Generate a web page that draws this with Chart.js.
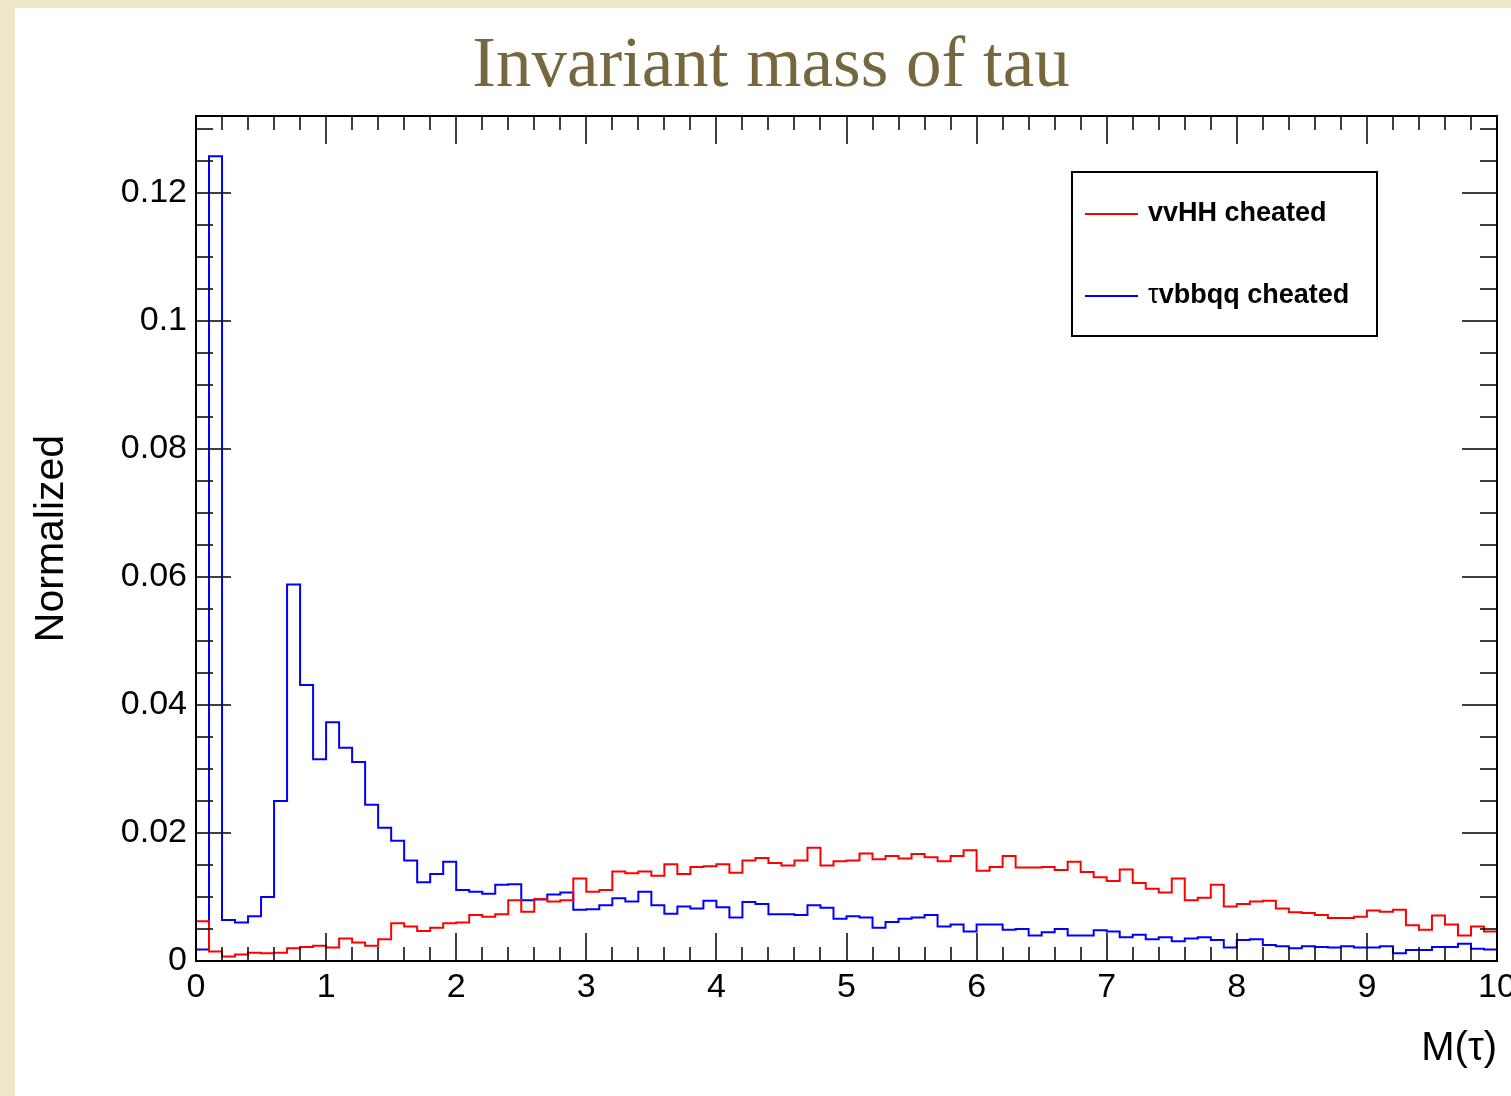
<!DOCTYPE html>
<html>
<head>
<meta charset="utf-8">
<title>Invariant mass of tau</title>
<script src="https://cdn.jsdelivr.net/npm/chart.js@4.4.1/dist/chart.umd.min.js"></script>
<style>
  html, body { margin: 0; padding: 0; }
  body { width: 1511px; height: 1096px; background: #efe6ca; overflow: hidden; position: relative; }
  #panel { position: absolute; left: 15px; top: 8px; width: 1496px; height: 1088px; background: #fff; }
  canvas { display: block; }
</style>
</head>
<body>
<div id="panel"><canvas id="massChart" width="1496" height="1088"></canvas></div>
<script>
// histogram binning: 100 bins of 0.1 between 0 and 10
const binLow = 0;
const binWidth = 0.1;

// vvHH cheated (red)
const vvhhCheated = [
  0.0062, 0.0015, 0.0007, 0.0010, 0.0013, 0.0012, 0.0013, 0.0020, 0.0022, 0.0024,
  0.0021, 0.0035, 0.0029, 0.0024, 0.0034, 0.0059, 0.0054, 0.0047, 0.0052, 0.0059,
  0.0060, 0.0072, 0.0069, 0.0073, 0.0095, 0.0077, 0.0097, 0.0093, 0.0095, 0.0129,
  0.0108, 0.0111, 0.0140, 0.0137, 0.0140, 0.0133, 0.0151, 0.0136, 0.0147, 0.0148,
  0.0151, 0.0138, 0.0157, 0.0161, 0.0153, 0.0149, 0.0157, 0.0177, 0.0149, 0.0156,
  0.0157, 0.0168, 0.0159, 0.0164, 0.0160, 0.0167, 0.0162, 0.0156, 0.0164, 0.0173,
  0.0141, 0.0147, 0.0164, 0.0146, 0.0146, 0.0147, 0.0142, 0.0155, 0.0139, 0.0131,
  0.0125, 0.0143, 0.0122, 0.0113, 0.0107, 0.0129, 0.0095, 0.0099, 0.0119, 0.0085,
  0.0089, 0.0093, 0.0094, 0.0082, 0.0076, 0.0075, 0.0072, 0.0067, 0.0067, 0.0069,
  0.0079, 0.0077, 0.0080, 0.0056, 0.0049, 0.0071, 0.0057, 0.0040, 0.0054, 0.0046
];

// τvbbqq cheated (blue)
const tauCheated = [
  0.0018, 0.1257, 0.0064, 0.0060, 0.0070, 0.0100, 0.0250, 0.0588, 0.0431, 0.0315,
  0.0373, 0.0333, 0.0311, 0.0244, 0.0208, 0.0188, 0.0157, 0.0123, 0.0136, 0.0155,
  0.0111, 0.0108, 0.0105, 0.0119, 0.0120, 0.0095, 0.0096, 0.0104, 0.0107, 0.0080,
  0.0081, 0.0087, 0.0098, 0.0093, 0.0108, 0.0087, 0.0074, 0.0085, 0.0082, 0.0094,
  0.0084, 0.0068, 0.0092, 0.0089, 0.0073, 0.0073, 0.0072, 0.0087, 0.0083, 0.0066,
  0.0070, 0.0068, 0.0052, 0.0061, 0.0066, 0.0068, 0.0072, 0.0054, 0.0057, 0.0046,
  0.0057, 0.0057, 0.0049, 0.0050, 0.0040, 0.0045, 0.0050, 0.0040, 0.0040, 0.0048,
  0.0046, 0.0037, 0.0041, 0.0034, 0.0037, 0.0031, 0.0035, 0.0037, 0.0033, 0.0021,
  0.0033, 0.0034, 0.0025, 0.0023, 0.0020, 0.0023, 0.0022, 0.0021, 0.0023, 0.0021,
  0.0021, 0.0023, 0.0012, 0.0017, 0.0017, 0.0022, 0.0022, 0.0027, 0.0019, 0.0018
];

const xTickLabels = [0, 1, 2, 3, 4, 5, 6, 7, 8, 9, 10];
const yTickLabels = [0, 0.02, 0.04, 0.06, 0.08, 0.1, 0.12];
const yMax = 0.132;

const titleText = 'Invariant mass of tau';

// bin contents -> one point per lower bin edge, plus the upper edge of the
// last bin; stepped 'before' holds each value across its bin
function histPoints(values) {
  const pts = values.map((v, i) => ({ x: binLow + i * binWidth, y: v }));
  pts.push({ x: binLow + values.length * binWidth, y: values[values.length - 1] });
  return pts;
}

// slide title, centred over the page
const slideTitle = {
  id: 'slideTitle',
  afterDraw(chart) {
    const { ctx } = chart;
    ctx.save();
    ctx.fillStyle = '#77673f';
    ctx.font = '71px "Liberation Serif", "Times New Roman", serif';
    ctx.textAlign = 'center';
    ctx.textBaseline = 'alphabetic';
    ctx.fillText(titleText, 756, 78);
    ctx.restore();
  }
};

// ROOT style frame: box + inward ticks on all four sides
const rootFrame = {
  id: 'rootFrame',
  afterDatasetsDraw(chart) {
    const { ctx, chartArea: a, scales: { x, y } } = chart;
    ctx.save();
    ctx.strokeStyle = '#000';
    ctx.lineWidth = 1.5;
    ctx.beginPath();
    for (let k = 0; k <= 50; k++) {
      const px = Math.round(x.getPixelForValue(k * 0.2));
      const len = k % 5 === 0 ? 28 : 14;
      ctx.moveTo(px, a.bottom); ctx.lineTo(px, a.bottom - len);
      ctx.moveTo(px, a.top); ctx.lineTo(px, a.top + len);
    }
    for (let k = 0; k * 0.005 <= yMax + 1e-9; k++) {
      const py = Math.round(y.getPixelForValue(k * 0.005));
      const len = k % 4 === 0 ? 35 : 17;
      ctx.moveTo(a.left, py); ctx.lineTo(a.left + len, py);
      ctx.moveTo(a.right, py); ctx.lineTo(a.right - len, py);
    }
    ctx.stroke();
    ctx.lineWidth = 2;
    ctx.strokeRect(a.left, a.top, a.width, a.height);
    ctx.restore();
  }
};

// boxed legend in the upper right of the frame
const boxLegend = {
  id: 'boxLegend',
  afterDraw(chart) {
    const { ctx, chartArea: a } = chart;
    const bx = a.left + 876, by = a.top + 56, bw = 305, bh = 164;
    ctx.save();
    ctx.fillStyle = '#fff';
    ctx.fillRect(bx, by, bw, bh);
    ctx.strokeStyle = '#000';
    ctx.lineWidth = 2;
    ctx.strokeRect(bx, by, bw, bh);
    ctx.textBaseline = 'middle';
    ctx.textAlign = 'left';
    chart.data.datasets.forEach((ds, i) => {
      const ly = by + 42 + i * 82;
      ctx.strokeStyle = ds.borderColor;
      ctx.lineWidth = 2;
      ctx.beginPath();
      ctx.moveTo(bx + 13, ly);
      ctx.lineTo(bx + 66, ly);
      ctx.stroke();
      ctx.fillStyle = '#000';
      let tx = bx + 76;
      let text = ds.label;
      // greek prefix is set in plain weight, the rest in bold
      if (/^[\u03b1-\u03c9]/.test(text)) {
        ctx.font = '27px "Liberation Sans", Arial, sans-serif';
        ctx.fillText(text[0], tx, ly);
        tx += ctx.measureText(text[0]).width;
        text = text.slice(1);
      }
      ctx.font = 'bold 27px "Liberation Sans", Arial, sans-serif';
      ctx.fillText(text, tx, ly);
    });
    ctx.restore();
  }
};

const sansFont = '"Liberation Sans", Arial, Helvetica, sans-serif';

new Chart(document.getElementById('massChart'), {
  type: 'line',
  data: {
    datasets: [
      {
        label: 'vvHH cheated',
        data: histPoints(vvhhCheated),
        borderColor: '#ff0000',
        borderWidth: 2,
        stepped: 'before',
        pointRadius: 0,
        fill: false
      },
      {
        label: 'τvbbqq cheated',
        data: histPoints(tauCheated),
        borderColor: '#0000ff',
        borderWidth: 2,
        stepped: 'before',
        pointRadius: 0,
        fill: false
      }
    ]
  },
  options: {
    responsive: false,
    animation: false,
    devicePixelRatio: 1,
    layout: { padding: { left: 0, right: 14, top: 108, bottom: 0 } },
    plugins: {
      legend: { display: false },
      tooltip: { enabled: false },
      title: { display: false }
    },
    scales: {
      x: {
        type: 'linear',
        min: 0,
        max: 10,
        grid: { display: false, drawTicks: false },
        border: { display: false },
        afterBuildTicks: s => { s.ticks = xTickLabels.map(v => ({ value: v })); },
        afterFit: s => { s.height = 135; s.paddingLeft = 0; s.paddingRight = 0; },
        ticks: {
          autoSkip: false,
          maxRotation: 0,
          padding: 6,
          color: '#000',
          font: { family: sansFont, size: 34 },
          callback: v => String(v)
        },
        title: {
          display: true,
          text: 'M(τ)',
          align: 'end',
          color: '#000',
          font: { family: sansFont, size: 40, lineHeight: 1.2 },
          padding: { top: 0, bottom: 23 }
        }
      },
      y: {
        type: 'linear',
        min: 0,
        max: yMax,
        grid: { display: false, drawTicks: false },
        border: { display: false },
        afterBuildTicks: s => { s.ticks = yTickLabels.map(v => ({ value: v })); },
        afterFit: s => { s.width = 181; },
        ticks: {
          padding: 9,
          color: '#000',
          font: { family: sansFont, size: 34 },
          callback: v => String(+v.toFixed(3))
        },
        title: {
          display: true,
          text: 'Normalized',
          color: '#000',
          font: { family: sansFont, size: 41, lineHeight: 1.2 },
          padding: { top: 12, bottom: 0 }
        }
      }
    }
  },
  plugins: [rootFrame, boxLegend, slideTitle]
});
</script>
</body>
</html>
